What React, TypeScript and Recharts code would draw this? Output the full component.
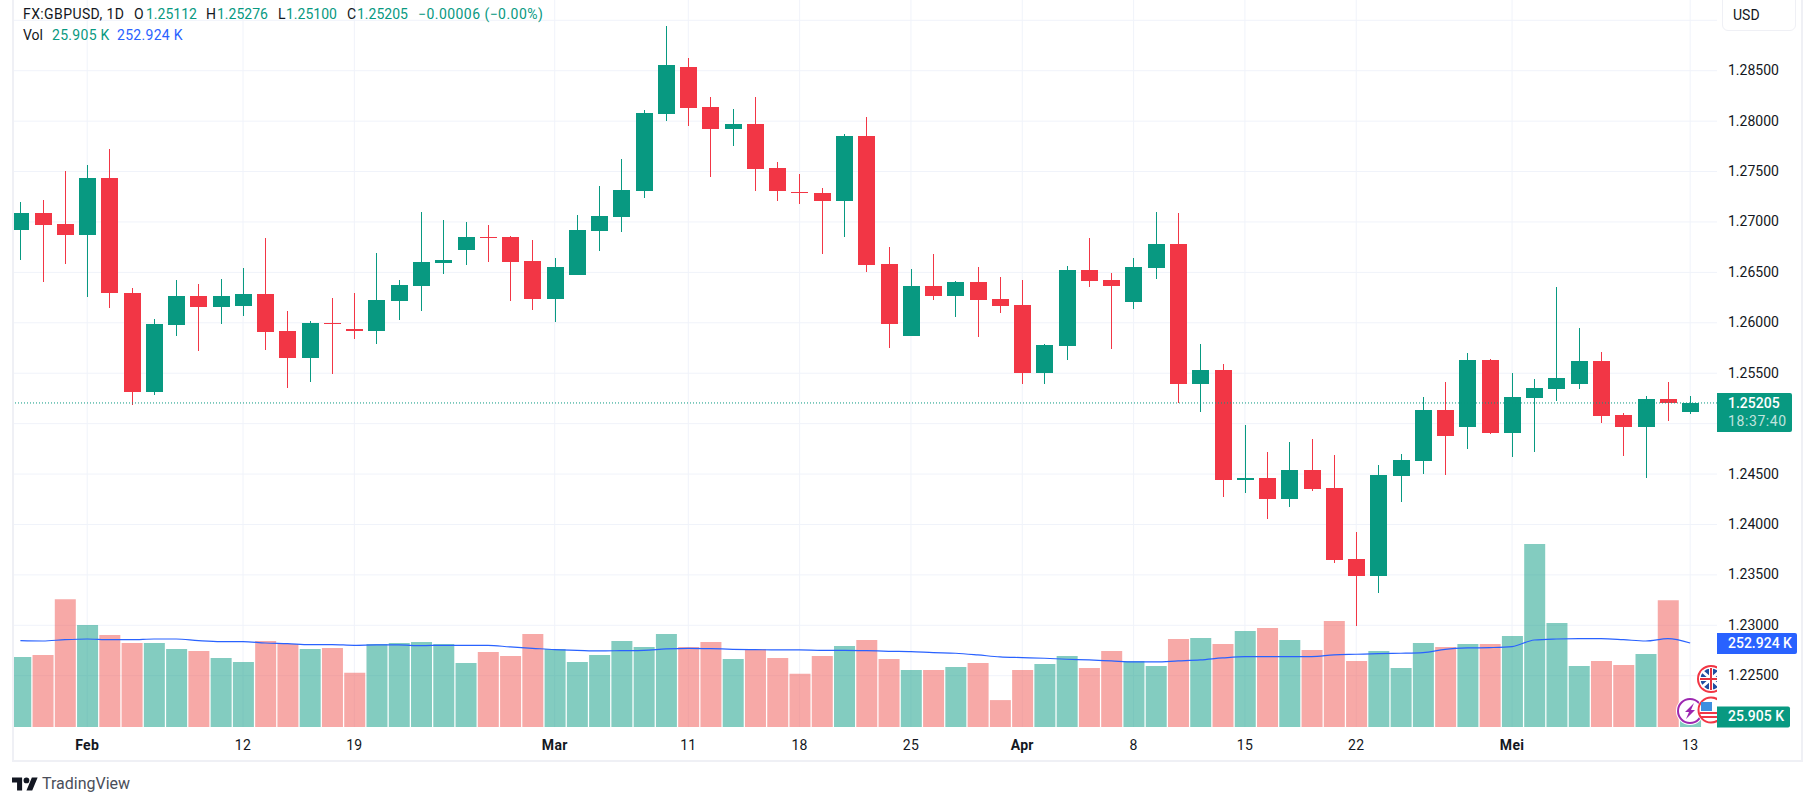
import {
  Bar,
  CartesianGrid,
  Cell,
  ComposedChart,
  Line,
  ReferenceLine,
  XAxis,
  YAxis,
} from "recharts";

const dates = [
  "01-29", "01-30", "01-31", "02-01", "02-02", "02-05", "02-06", "02-07", "02-08", "02-09",
  "02-12", "02-13", "02-14", "02-15", "02-16", "02-19", "02-20", "02-21", "02-22", "02-23",
  "02-26", "02-27", "02-28", "02-29", "03-01", "03-04", "03-05", "03-06", "03-07", "03-08",
  "03-11", "03-12", "03-13", "03-14", "03-15", "03-18", "03-19", "03-20", "03-21", "03-22",
  "03-25", "03-26", "03-27", "03-28", "03-29", "04-01", "04-02", "04-03", "04-04", "04-05",
  "04-08", "04-09", "04-10", "04-11", "04-12", "04-15", "04-16", "04-17", "04-18", "04-19",
  "04-22", "04-23", "04-24", "04-25", "04-26", "04-29", "04-30", "05-01", "05-02", "05-03",
  "05-06", "05-07", "05-08", "05-09", "05-10", "05-13",
];

const opens = [
  1.26918, 1.27087, 1.26978, 1.26869, 1.27434, 1.26293, 1.25312, 1.25976, 1.26264, 1.26155,
  1.26164, 1.26283, 1.25917, 1.25649, 1.25999, 1.25936, 1.25917, 1.26214, 1.26363, 1.26591,
  1.2672, 1.26849, 1.26849, 1.26611, 1.26234, 1.26472, 1.26908, 1.27047, 1.27305, 1.28069,
  1.28535, 1.28138, 1.2792, 1.27969, 1.27533, 1.27295, 1.27285, 1.27206, 1.2785, 1.26583,
  1.25869, 1.26364, 1.26265, 1.26404, 1.26236, 1.26176, 1.25502, 1.25774, 1.26527, 1.26428,
  1.2621, 1.26547, 1.26785, 1.25397, 1.25536, 1.24445, 1.24464, 1.24256, 1.24544, 1.24365,
  1.2366, 1.23492, 1.24483, 1.24633, 1.25139, 1.2497, 1.25632, 1.24908, 1.25255, 1.25345,
  1.25394, 1.25622, 1.25087, 1.24968, 1.25245, 1.25112,
];
const highs = [
  1.27196, 1.27216, 1.27503, 1.27563, 1.27721, 1.26343, 1.26036, 1.26422, 1.26383, 1.26432,
  1.26541, 1.26839, 1.26115, 1.26016, 1.26244, 1.26293, 1.2669, 1.26422, 1.27097, 1.27017,
  1.26998, 1.26968, 1.26859, 1.26819, 1.2664, 1.27067, 1.27355, 1.27622, 1.28108, 1.28941,
  1.28624, 1.28237, 1.28118, 1.28237, 1.27593, 1.27474, 1.27335, 1.2787, 1.28039, 1.26751,
  1.26533, 1.26682, 1.26414, 1.26553, 1.26454, 1.26424, 1.25789, 1.26567, 1.26845, 1.26498,
  1.26646, 1.27102, 1.27093, 1.25793, 1.25595, 1.2499, 1.24722, 1.24821, 1.24851, 1.24693,
  1.23928, 1.24593, 1.24702, 1.25268, 1.25417, 1.25704, 1.25642, 1.25503, 1.25444, 1.26356,
  1.2595, 1.25712, 1.25107, 1.25275, 1.25414, 1.25276,
];
const lows = [
  1.26621, 1.26402, 1.26581, 1.26254, 1.26145, 1.25183, 1.25282, 1.25867, 1.25718, 1.25986,
  1.26065, 1.25728, 1.25351, 1.25411, 1.2549, 1.25837, 1.25788, 1.26026, 1.26115, 1.26482,
  1.26571, 1.26601, 1.26214, 1.26125, 1.26005, 1.26472, 1.2671, 1.26898, 1.27236, 1.27999,
  1.2795, 1.27444, 1.27751, 1.27305, 1.27206, 1.27176, 1.2668, 1.26849, 1.26502, 1.2575,
  1.25869, 1.26226, 1.26057, 1.25859, 1.26097, 1.25393, 1.25393, 1.25635, 1.26359, 1.25744,
  1.2614, 1.26438, 1.25205, 1.25119, 1.24276, 1.24316, 1.24058, 1.24177, 1.24336, 1.23621,
  1.22996, 1.23323, 1.24226, 1.24504, 1.24494, 1.24752, 1.24898, 1.2467, 1.2472, 1.25226,
  1.25345, 1.25007, 1.2468, 1.24462, 1.25027, 1.251,
];
const closes = [
  1.27087, 1.26968, 1.26869, 1.27434, 1.26293, 1.25312, 1.25986, 1.26264, 1.26155, 1.26264,
  1.26283, 1.25907, 1.25649, 1.25996, 1.25986, 1.25917, 1.26224, 1.26373, 1.26601, 1.26621,
  1.26849, 1.26839, 1.26601, 1.26234, 1.26551, 1.26918, 1.27057, 1.27315, 1.28079, 1.28555,
  1.28128, 1.2792, 1.27969, 1.27523, 1.27305, 1.27285, 1.27206, 1.2785, 1.26571, 1.25988,
  1.26364, 1.26265, 1.26404, 1.26226, 1.26166, 1.25502, 1.25779, 1.26527, 1.26418, 1.26369,
  1.26557, 1.26785, 1.25397, 1.25536, 1.24445, 1.24464, 1.24256, 1.24544, 1.24355, 1.2365,
  1.23492, 1.24493, 1.24642, 1.25139, 1.24881, 1.25635, 1.24908, 1.25265, 1.25355, 1.25454,
  1.25622, 1.25077, 1.24968, 1.25245, 1.25206, 1.25205,
];

// volume and its moving average, in thousands
const volumes = [
  211, 217, 385, 307, 277, 253, 253, 235, 229, 208,
  196, 259, 250, 235, 238, 163, 250, 253, 256, 250,
  193, 226, 214, 280, 235, 196, 217, 259, 241, 280,
  241, 256, 205, 235, 208, 160, 214, 244, 262, 205,
  172, 172, 181, 193, 81, 172, 190, 214, 178, 229,
  199, 184, 265, 268, 250, 289, 298, 262, 232, 319,
  199, 229, 178, 253, 241, 250, 250, 274, 551, 313,
  184, 199, 187, 220, 382, 25.905,
];
const volumeMa = [
  260, 259, 263, 265, 263, 263, 265, 265, 260, 257,
  257, 253, 251, 248, 248, 246, 247, 247, 245, 246,
  246, 246, 241, 237, 233, 231, 229, 230, 231, 235,
  237, 236, 234, 233, 232, 232, 231, 231, 230, 228,
  227, 224, 222, 217, 211, 209, 207, 204, 202, 199,
  196, 196, 199, 202, 208, 212, 212, 212, 212, 217,
  219, 221, 222, 224, 234, 238, 239, 242, 262, 265,
  266, 266, 263, 259, 266, 252.924,
];

const priceTicks = [
  1.225, 1.23, 1.235, 1.24, 1.245, 1.25, 1.255, 1.26, 1.265, 1.27, 1.275, 1.28, 1.285, 1.29,
];
const hiddenPriceLabels = [1.25, 1.29];
const dateTicks: Record<string, string> = {
  "02-01": "Feb",
  "02-12": "12",
  "02-19": "19",
  "03-01": "Mar",
  "03-11": "11",
  "03-18": "18",
  "03-25": "25",
  "04-01": "Apr",
  "04-08": "8",
  "04-15": "15",
  "04-22": "22",
  "05-01": "Mei",
  "05-13": "13",
};

const UP = "#089981";
const DOWN = "#f23645";
const VOL_DOWN = "#ef5350";
const BLUE = "#2962ff";
const GRID = "#f0f3fa";
const TEXT = "#131722";
const FONT = "Roboto, sans-serif";

const rows = dates.map((date, i) => ({
  date,
  open: opens[i],
  high: highs[i],
  low: lows[i],
  close: closes[i],
  range: [lows[i], highs[i]],
  volume: volumes[i],
  ma: volumeMa[i],
}));

function Candle(props: any) {
  const { x, y, width, height, payload } = props;
  const h = Math.abs(height);
  const top = height < 0 ? y + height : y;
  const perUnit = h / (payload.high - payload.low);
  const bodyTop = top + (payload.high - Math.max(payload.open, payload.close)) * perUnit;
  const bodyH = Math.abs(payload.open - payload.close) * perUnit;
  const color = payload.close >= payload.open ? UP : DOWN;
  return (
    <g shapeRendering="crispEdges" fill={color}>
      <rect x={Math.floor(x + width / 2)} y={top} width={1} height={h} />
      <rect x={x} y={bodyTop} width={width} height={Math.max(bodyH, 1)} />
    </g>
  );
}

function DateTick(props: any) {
  const { x, y, payload } = props;
  const label = dateTicks[payload.value];
  const bold = /[A-Za-z]/.test(label ?? "");
  return (
    <text
      x={x}
      y={y + 11}
      textAnchor="middle"
      fontFamily={FONT}
      fontSize={14}
      fontWeight={bold ? 700 : 400}
      letterSpacing={0.3}
      fill={TEXT}
    >
      {label}
    </text>
  );
}

function PriceTick(props: any) {
  const { x, y, payload } = props;
  if (hiddenPriceLabels.includes(payload.value)) return <g />;
  return (
    <text
      x={x}
      y={y + 4.5}
      textAnchor="start"
      fontFamily={FONT}
      fontSize={14}
      fill={TEXT}
    >
      {payload.value.toFixed(5)}
    </text>
  );
}

function tag(lines: string[], fill: string, w: number, h: number, yShift: number) {
  return (props: any) => {
    const vb = props.viewBox;
    const left = vb.x + vb.width;
    const top = vb.y + yShift;
    return (
      <g fontFamily={FONT} fontSize={14}>
        <path
          d={`M${left} ${top}h${w - 2}q2 0 2 2v${h - 4}q0 2 -2 2h${2 - w}z`}
          fill={fill}
        />
        <text x={left + 11} y={top + 15} fill="#fff" fontWeight={500}>
          {lines[0]}
        </text>
        {lines[1] && (
          <text x={left + 11} y={top + 33.5} fill="#fff" fillOpacity={0.75} letterSpacing={0.6}>
            {lines[1]}
          </text>
        )}
      </g>
    );
  };
}

const hStyle = {
  position: "absolute" as const,
  fontFamily: FONT,
  fontSize: 14,
  lineHeight: "18px",
  whiteSpace: "nowrap" as const,
};

function HeaderText({ x, y, color, spacing, children }: any) {
  return (
    <span style={{ ...hStyle, left: x, top: y, color, letterSpacing: spacing ?? 0 }}>
      {children}
    </span>
  );
}

function Frame() {
  const strip = "#eff0f5";
  return (
    <>
      <div style={{ position: "absolute", left: 0, top: 0, width: 12, height: 806, background: "#fff" }} />
      <div style={{ position: "absolute", left: 12, top: 0, width: 1.5, height: 762, background: strip }} />
      <div style={{ position: "absolute", left: 12, top: 760, width: 1791, height: 2, background: strip }} />
      <div style={{ position: "absolute", left: 1801, top: 0, width: 2, height: 762, background: strip }} />
    </>
  );
}

function Badges() {
  return (
    <svg
      width={60}
      height={70}
      viewBox="1670 660 60 70"
      style={{ position: "absolute", left: 1670, top: 660 }}
    >
      <defs>
        <clipPath id="axisEdge">
          <rect x={1670} y={660} width={47} height={70} />
        </clipPath>
      </defs>
      <circle cx={1690} cy={711} r={14} fill="#fff" />
      <circle cx={1690} cy={711} r={12} fill="#fff" stroke="#9c27b0" strokeWidth={2} />
      <path d="M1694 703l-9 9h4l-3 7 9-9h-4z" fill="#9c27b0" />
      <g clipPath="url(#axisEdge)">
        <circle cx={1711} cy={679} r={13} fill="#fff" stroke="#f23645" strokeWidth={2} />
        <circle cx={1711} cy={679} r={10.5} fill="#1f4ea1" />
        <path d="M1702 671l18 16M1720 671l-18 16" stroke="#fff" strokeWidth={3} />
        <path d="M1711 668v22M1700 679h22" stroke="#fff" strokeWidth={4} />
        <path d="M1711 668v22M1700 679h22" stroke="#e5343f" strokeWidth={2} />
        <circle cx={1711} cy={710} r={14} fill="#fff" />
        <circle cx={1711} cy={710} r={12.5} fill="#fff" stroke="#f23645" strokeWidth={2} />
        <rect x={1701} y={702} width={11} height={9} fill="#3d8fe0" />
        <path d="M1700 713h22M1700 717h22" stroke="#f23645" strokeWidth={2} />
      </g>
    </svg>
  );
}

export default function App() {
  return (
    <div
      style={{
        position: "absolute",
        left: 0,
        top: 0,
        width: 1815,
        height: 806,
        background: "#fff",
        overflow: "hidden",
      }}
    >
      <ComposedChart
        width={1802}
        height={761}
        data={rows}
        margin={{ top: 0, right: 0, bottom: 0, left: 9.27 }}
        barGap={0}
      >
        <CartesianGrid stroke={GRID} yAxisId="price" syncWithTicks />
        <XAxis
          dataKey="date"
          scale="band"
          ticks={Object.keys(dateTicks)}
          interval={0}
          height={34}
          padding={{ left: 0, right: 15.7 }}
          axisLine={false}
          tickLine={false}
          tick={<DateTick />}
          tickMargin={6}
        />
        <XAxis
          xAxisId="v"
          dataKey="date"
          scale="band"
          hide
          padding={{ left: 0, right: 15.7 }}
        />
        <YAxis
          yAxisId="price"
          orientation="right"
          width={85}
          domain={[1.219914, 1.292013]}
          ticks={priceTicks}
          interval={0}
          axisLine={false}
          tickLine={false}
          tickMargin={5}
          tick={<PriceTick />}
          allowDataOverflow
        />
        <YAxis yAxisId="vol" hide domain={[0, 2189.1]} allowDataOverflow />
        <Bar
          xAxisId="v"
          yAxisId="vol"
          dataKey="volume"
          barSize={21}
          isAnimationActive={false}
        >
          {rows.map((r) => (
            <Cell
              key={r.date}
              fill={r.close >= r.open ? UP : VOL_DOWN}
              fillOpacity={0.5}
            />
          ))}
        </Bar>
        <Line
          xAxisId="v"
          yAxisId="vol"
          dataKey="ma"
          type="monotone"
          stroke={BLUE}
          strokeWidth={1.2}
          dot={false}
          isAnimationActive={false}
        />
        <Bar
          yAxisId="price"
          dataKey="range"
          barSize={17}
          shape={<Candle />}
          isAnimationActive={false}
        />
        <ReferenceLine
          yAxisId="price"
          y={closes[closes.length - 1]}
          stroke={UP}
          strokeDasharray="1 2"
          label={tag(["1.25205", "18:37:40"], UP, 75, 39, -10)}
        />
        <ReferenceLine
          yAxisId="vol"
          y={volumeMa[volumeMa.length - 1]}
          stroke="none"
          label={tag(["252.924 K"], BLUE, 80, 21, -10)}
        />
        <ReferenceLine
          yAxisId="vol"
          y={volumes[volumes.length - 1]}
          stroke="none"
          label={tag(["25.905 K"], UP, 73, 21, -12)}
        />
      </ComposedChart>

      <Frame />
      <Badges />

      <HeaderText x={23} y={5} color={TEXT} spacing={0.4}>FX:GBPUSD, 1D</HeaderText>
      <HeaderText x={134} y={5} color={TEXT}>O</HeaderText>
      <HeaderText x={146} y={5} color={UP}>1.25112</HeaderText>
      <HeaderText x={206} y={5} color={TEXT}>H</HeaderText>
      <HeaderText x={217} y={5} color={UP}>1.25276</HeaderText>
      <HeaderText x={278} y={5} color={TEXT}>L</HeaderText>
      <HeaderText x={286} y={5} color={UP}>1.25100</HeaderText>
      <HeaderText x={347} y={5} color={TEXT}>C</HeaderText>
      <HeaderText x={357} y={5} color={UP}>1.25205</HeaderText>
      <HeaderText x={418} y={5} color={UP} spacing={0.45}>−0.00006 (−0.00%)</HeaderText>
      <HeaderText x={23} y={26} color={TEXT}>Vol</HeaderText>
      <HeaderText x={52} y={26} color={UP} spacing={0.3}>25.905 K</HeaderText>
      <HeaderText x={117} y={26} color={BLUE} spacing={0.3}>252.924 K</HeaderText>

      <div
        style={{
          position: "absolute",
          left: 1722,
          top: -6,
          width: 72,
          height: 35,
          border: "1.5px solid #eff0f5",
          borderRadius: 6,
          background: "#fff",
        }}
      />
      <HeaderText x={1733} y={6} color={TEXT}>USD</HeaderText>

      <svg
        width={26}
        height={14}
        viewBox="0 0 36 18"
        style={{ position: "absolute", left: 12, top: 777 }}
      >
        <path d="M14 18H7V7H0V0h14zM28 18h-8l7.5-18h8z" fill={TEXT} />
        <circle cx={20} cy={4} r={4} fill={TEXT} />
      </svg>
      <span
        style={{
          ...hStyle,
          left: 42,
          top: 775,
          fontSize: 16,
          color: "#4a4e59",
        }}
      >
        TradingView
      </span>
    </div>
  );
}
